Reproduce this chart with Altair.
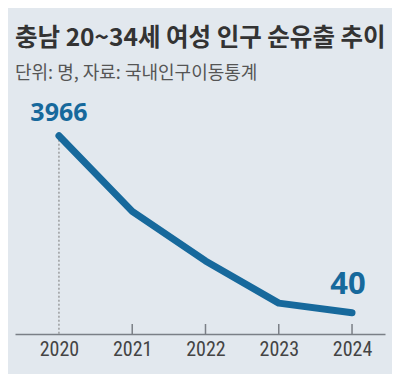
import altair as alt
import pandas as pd

years = [2020, 2021, 2022, 2023, 2024]
values = [3966, 2290, 1190, 255, 40]
tick_years = [2021, 2022, 2023, 2024]

title_text = "충남 20~34세 여성 인구 순유출 추이"
subtitle_text = "단위: 명, 자료: 국내인구이동통계"

BLUE = "#17699c"
BG = "#e2e8ee"

Y_MIN, Y_MAX = -430, 4980
TICK_TOP = -208

df = pd.DataFrame({"year": years, "value": values})
first = pd.DataFrame({"year": [years[0]], "value": [values[0]], "lo": [Y_MIN]})
last = pd.DataFrame({"year": [years[-1]], "value": [values[-1]]})
ticks = pd.DataFrame({"year": tick_years, "lo": [Y_MIN] * 4, "hi": [TICK_TOP] * 4})

W, H = 370, 244
xs = alt.Scale(domain=[2019.4, 2024.45], nice=False, zero=False)
ys = alt.Scale(domain=[Y_MIN, Y_MAX], nice=False, zero=False)

x_axis = alt.Axis(
    values=years, format="d", ticks=False, grid=False, title=None,
    domainColor="#7a7f86", domainWidth=1.5,
    labelFont="Roboto Condensed, Roboto", labelFontSize=20, labelColor="#444444",
    labelPadding=5,
)


def X():
    return alt.X("year:Q", scale=xs, axis=x_axis)


def Y(field):
    return alt.Y(field, scale=ys, axis=None)


line = alt.Chart(df).mark_line(color=BLUE, strokeWidth=7, strokeCap="round", strokeJoin="round").encode(
    x=X(), y=Y("value:Q"),
)

dotted = alt.Chart(first).mark_rule(color="#777777", strokeWidth=1, strokeDash=[2, 2]).encode(
    x=X(), y=Y("value:Q"), y2="lo:Q",
)

tick_rules = alt.Chart(ticks).mark_rule(color="#7a7f86", strokeWidth=1.5).encode(
    x=X(), y=Y("lo:Q"), y2="hi:Q",
)

lab_first = alt.Chart(first).mark_text(
    font="Noto Sans", fontWeight="bold", fontSize=25, color=BLUE, dy=-10, baseline="bottom"
).encode(
    x=X(), y=Y("value:Q"), text=alt.Text("value:Q", format="d"),
)

lab_last = alt.Chart(last).mark_text(
    font="Noto Sans", fontWeight="bold", fontSize=31, color=BLUE, dy=-12, dx=-4, baseline="bottom"
).encode(
    x=X(), y=Y("value:Q"), text=alt.Text("value:Q", format="d"),
)

chart = alt.layer(dotted, tick_rules, line, lab_first, lab_last).properties(
    width=W,
    height=H,
    autosize=alt.AutoSizeParams(type="none"),
    padding={"left": 7, "top": 82, "right": 7, "bottom": 40},
    background=BG,
    title=alt.Title(
        text=title_text,
        subtitle=subtitle_text,
        anchor="start",
        offset=6,
        font="Noto Sans CJK KR",
        fontSize=24.5,
        fontWeight="bold",
        color="#333333",
        subtitleFont="Noto Sans CJK KR",
        subtitleFontSize=18,
        subtitleColor="#555555",
        subtitlePadding=14,
    ),
).configure_view(stroke=None)

chart.save("out.html", embed_options={"renderer": "svg", "actions": False})
